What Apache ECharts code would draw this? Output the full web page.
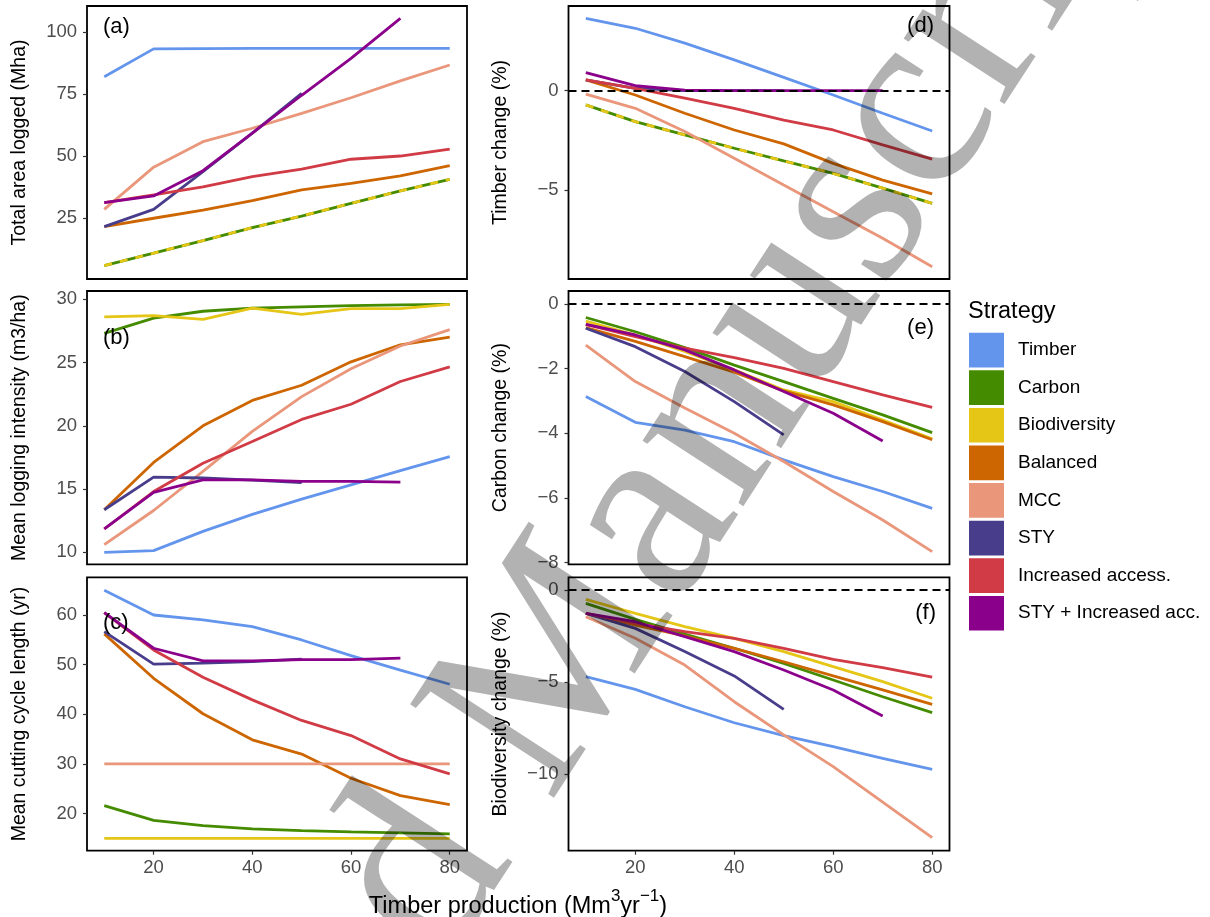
<!DOCTYPE html>
<html><head><meta charset="utf-8">
<script src="https://cdn.jsdelivr.net/npm/echarts/dist/echarts.min.js"></script>
<style>html,body{margin:0;padding:0;background:#fff}#chart{width:1210px;height:917px}</style>
</head><body><div id="chart"></div>
<script>
// ---------------- data ----------------
const xValues = [10, 20, 30, 40, 50, 60, 70, 80];
const strategies = ['Timber', 'Carbon', 'Biodiversity', 'Balanced', 'MCC', 'STY', 'Increased access.', 'STY + Increased acc.'];
const colors = ['#6495ED', '#458B00', '#E5C616', '#CD6600', '#E9967A', '#483D8B', '#D13B45', '#8B008B'];

// rows in strategy order
const areaLogged = [
  [82.1, 93.3, 93.4, 93.5, 93.5, 93.5, 93.5, 93.5],
  [5.9, 10.9, 16.0, 21.2, 25.9, 31.0, 36.0, 40.7],
  [5.9, 10.9, 16.0, 21.2, 25.9, 31.0, 36.0, 40.7],
  [21.6, 25.0, 28.3, 32.1, 36.4, 39.1, 42.1, 46.2],
  [28.6, 45.6, 55.9, 61.3, 67.3, 73.6, 80.4, 86.8],
  [21.6, 28.6, 43.8, 59.3, 75.4],
  [31.3, 34.4, 37.7, 41.8, 44.8, 48.8, 50.1, 52.9],
  [31.3, 34.0, 44.2, 59.3, 74.6, 89.5, 105.6]
];
const loggingIntensity = [
  [10.0, 10.13, 11.65, 13.0, 14.2, 15.33, 16.46, 17.56],
  [27.3, 28.5, 29.05, 29.3, 29.4, 29.5, 29.55, 29.6],
  [28.6, 28.7, 28.4, 29.3, 28.8, 29.25, 29.25, 29.6],
  [13.36, 17.1, 20.0, 22.0, 23.2, 25.05, 26.4, 27.0],
  [10.6, 13.3, 16.4, 19.55, 22.3, 24.5, 26.3, 27.6],
  [13.36, 15.94, 15.87, 15.7, 15.5],
  [11.84, 14.8, 17.04, 18.75, 20.5, 21.7, 23.5, 24.66],
  [11.84, 14.73, 15.73, 15.73, 15.6, 15.6, 15.55]
];
const cuttingCycle = [
  [65.0, 60.0, 59.0, 57.65, 54.97, 51.8, 48.9, 46.05],
  [21.6, 18.6, 17.55, 16.9, 16.55, 16.3, 16.1, 15.9],
  [15, 15, 15, 15, 15, 15, 15, 15],
  [56.2, 47.25, 40.1, 34.85, 31.97, 27.1, 23.6, 21.8],
  [30, 30, 30, 30, 30, 30, 30, 30],
  [56.65, 50.1, 50.3, 50.6, 51.1],
  [60.47, 52.96, 47.46, 42.9, 38.75, 35.7, 31.0, 28.0],
  [60.47, 53.3, 50.75, 50.75, 51.0, 51.0, 51.3]
];
const timberChange = [
  [3.64, 3.14, 2.39, 1.55, 0.67, -0.22, -1.14, -2.03],
  [-0.72, -1.56, -2.23, -2.90, -3.54, -4.16, -4.91, -5.67],
  [-0.72, -1.56, -2.23, -2.90, -3.54, -4.16, -4.91, -5.67],
  [0.54, -0.22, -1.14, -1.98, -2.68, -3.66, -4.50, -5.20],
  [-0.18, -0.89, -2.06, -3.40, -4.75, -6.09, -7.43, -8.86],
  [0.54, 0.12, 0, 0, 0],
  [0.54, 0.12, -0.38, -0.89, -1.48, -1.98, -2.73, -3.45],
  [0.91, 0.25, 0.03, 0, 0, 0, 0]
];
const carbonChange = [
  [-2.86, -3.66, -3.90, -4.26, -4.82, -5.34, -5.80, -6.32],
  [-0.42, -0.86, -1.35, -1.89, -2.40, -2.92, -3.43, -3.98],
  [-0.53, -0.96, -1.47, -2.04, -2.66, -3.02, -3.59, -4.17],
  [-0.73, -1.16, -1.63, -2.11, -2.69, -3.12, -3.64, -4.20],
  [-1.27, -2.40, -3.22, -4.00, -4.87, -5.80, -6.68, -7.66],
  [-0.75, -1.32, -2.09, -3.02, -4.05],
  [-0.63, -1.01, -1.37, -1.66, -1.99, -2.40, -2.81, -3.20],
  [-0.63, -0.96, -1.42, -2.04, -2.71, -3.38, -4.24]
];
const biodivChange = [
  [-4.70, -5.39, -6.33, -7.20, -7.90, -8.50, -9.13, -9.73],
  [-0.72, -1.59, -2.39, -3.16, -3.98, -4.88, -5.79, -6.65],
  [-0.51, -1.27, -1.99, -2.62, -3.34, -4.16, -4.97, -5.87],
  [-1.27, -1.90, -2.49, -3.16, -3.89, -4.66, -5.42, -6.20],
  [-1.45, -2.62, -4.07, -6.06, -7.86, -9.58, -11.5, -13.43],
  [-1.27, -2.08, -3.34, -4.66, -6.47],
  [-1.27, -1.81, -2.26, -2.62, -3.16, -3.76, -4.21, -4.73],
  [-1.27, -1.72, -2.53, -3.34, -4.34, -5.42, -6.83]
];
const xTicks = [20, 40, 60, 80];
const yTicksA = [25, 50, 75, 100];
const yTicksB = [10, 15, 20, 25, 30];
const yTicksC = [20, 30, 40, 50, 60];
const yTicksD = [-5, 0];
const yTicksE = [-8, -6, -4, -2, 0];
const yTicksF = [-10, -5, 0];
const yTitles = ['Total area logged (Mha)', 'Mean logging intensity (m3/ha)', 'Mean cutting cycle length (yr)',
                 'Timber change (%)', 'Carbon change (%)', 'Biodiversity change (%)'];
const tags = ['(a)', '(b)', '(c)', '(d)', '(e)', '(f)'];

// ---------------- layout ----------------
const FONT = "'Liberation Sans', Arial, Helvetica, sans-serif";
const colLeft = [87, 568.5], colWidth = [380, 381];
const rowTop = [6, 291, 577.3], rowHeight = [273, 273.3, 273.4];
const panels = [
  { v: areaLogged, col: 0, row: 0, min: 0.5, max: 110.6, ticks: yTicksA, overlap: true, zero: false, tagX: 103, tagY: 27, tagAlign: 'left' },
  { v: loggingIntensity, col: 0, row: 1, min: 9.05, max: 30.65, ticks: yTicksB, overlap: false, zero: false, tagX: 103, tagY: 337.5, tagAlign: 'left' },
  { v: cuttingCycle, col: 0, row: 2, min: 12.5, max: 67.6, ticks: yTicksC, overlap: false, zero: false, tagX: 103, tagY: 623, tagAlign: 'left' },
  { v: timberChange, col: 1, row: 0, min: -9.48, max: 4.26, ticks: yTicksD, overlap: true, zero: true, tagX: 934, tagY: 25.5, tagAlign: 'right' },
  { v: carbonChange, col: 1, row: 1, min: -8.05, max: 0.4, ticks: yTicksE, overlap: false, zero: true, tagX: 934, tagY: 328, tagAlign: 'right' },
  { v: biodivChange, col: 1, row: 2, min: -14.14, max: 0.69, ticks: yTicksF, overlap: false, zero: true, tagX: 936, tagY: 613, tagAlign: 'right' }
];

const fmt = v => (v < 0 ? '\u2212' + Math.abs(v) : String(v));
const grids = [], xAxes = [], yAxes = [], series = [], graphics = [];

panels.forEach((p, gi) => {
  grids.push({ left: colLeft[p.col], top: rowTop[p.row], width: colWidth[p.col], height: rowHeight[p.row],
    show: true, borderColor: '#000', borderWidth: 1.8, backgroundColor: 'transparent', containLabel: false });
  const bottom = p.row === 2;
  xAxes.push({ gridIndex: gi, type: 'value', min: 6.5, max: 83.5,
    axisLine: { show: false, onZero: false }, splitLine: { show: false },
    axisTick: { show: bottom, length: 4, lineStyle: { color: '#333', width: 1.2 }, customValues: xTicks },
    axisLabel: { show: bottom, customValues: xTicks, color: '#4D4D4D', fontSize: 18.5, fontFamily: FONT, margin: 8 } });
  yAxes.push({ gridIndex: gi, type: 'value', min: p.min, max: p.max,
    axisLine: { show: false, onZero: false }, splitLine: { show: false },
    axisTick: { show: true, length: 4, lineStyle: { color: '#333', width: 1.2 }, customValues: p.ticks },
    axisLabel: { customValues: p.ticks, color: '#4D4D4D', fontSize: 18.5, fontFamily: FONT, margin: 10, formatter: fmt } });
  if (p.zero) {
    series.push({ type: 'line', xAxisIndex: gi, yAxisIndex: gi, data: [], z: 1, silent: true,
      markLine: { silent: true, symbol: ['none', 'none'], label: { show: false }, animation: false,
        lineStyle: { color: '#000', width: 2, type: [8, 5] }, data: [{ yAxis: 0 }] } });
  }
  strategies.forEach((name, si) => {
    const dashed = p.overlap && si === 2;
    series.push({ type: 'line', name: name, xAxisIndex: gi, yAxisIndex: gi, z: 3,
      data: p.v[si].map((y, i) => [xValues[i], y]),
      showSymbol: false, symbol: 'none', silent: true, animation: false,
      color: colors[si], itemStyle: { color: colors[si] },
      lineStyle: { color: colors[si], width: 2.8, type: dashed ? [8, 8] : 'solid', cap: 'butt' },
      emphasis: { disabled: true } });
  });
  const cx = p.col === 0 ? 20 : 500.5;
  graphics.push({ type: 'text', x: cx, y: rowTop[p.row] + rowHeight[p.row] / 2, rotation: Math.PI / 2, silent: true,
    style: { text: yTitles[gi], fontSize: 19.5, fontFamily: FONT, fill: '#000', textAlign: 'center', textVerticalAlign: 'middle' } });
  graphics.push({ type: 'text', x: p.tagX, y: p.tagY, silent: true, z: 50,
    style: { text: tags[gi], fontSize: 22, fontFamily: FONT, fill: '#000', textAlign: p.tagAlign, textVerticalAlign: 'middle' } });
});

// x title with superscripts
graphics.push({ type: 'text', x: 518, y: 907, silent: true,
  style: { text: 'Timber production (Mm{sup|3}yr{sup|\u22121})', fontSize: 23.5, fontFamily: FONT, fill: '#000',
    textAlign: 'center', textVerticalAlign: 'middle', lineHeight: 38,
    rich: { sup: { fontSize: 17, fontFamily: FONT, fill: '#000', verticalAlign: 'top', lineHeight: 17 } } } });
// legend title
graphics.push({ type: 'text', x: 968, y: 312, silent: true,
  style: { text: 'Strategy', fontSize: 23.5, fontFamily: FONT, fill: '#000', textAlign: 'left', textVerticalAlign: 'middle' } });

// watermark
const wmRot = 57 * Math.PI / 180;
const wmX = 602, wmY = 838, wmSize = 262;
const wmFont = "'Liberation Serif', 'Times New Roman', serif";
graphics.push({ type: 'text', x: wmX, y: wmY, rotation: wmRot, silent: true, z: 100,
  style: { text: 'Manuscript', fontSize: wmSize, fontFamily: wmFont, fill: 'rgba(0,0,0,0.3)', textAlign: 'left', textVerticalAlign: 'bottom' } });
graphics.push({ type: 'text', x: wmX, y: wmY, rotation: wmRot, silent: true, z: 100,
  style: { text: 'Accepted ', fontSize: wmSize, fontFamily: wmFont, fill: 'rgba(0,0,0,0.3)', textAlign: 'right', textVerticalAlign: 'bottom' } });

const chart = echarts.init(document.getElementById('chart'), null, { renderer: 'canvas' });
chart.setOption({
  animation: false,
  backgroundColor: '#fff',
  grid: grids, xAxis: xAxes, yAxis: yAxes, series: series,
  legend: { orient: 'vertical', left: 969, top: 332.7, padding: 0, itemWidth: 35, itemHeight: 34.7, itemGap: 2.9, icon: 'rect',
    selectedMode: false, data: strategies, itemStyle: { borderWidth: 0 },
    textStyle: { fontSize: 19, color: '#000', fontFamily: FONT, padding: [0, 0, 0, 9] } },
  graphic: { elements: graphics }
});
</script></body></html>
